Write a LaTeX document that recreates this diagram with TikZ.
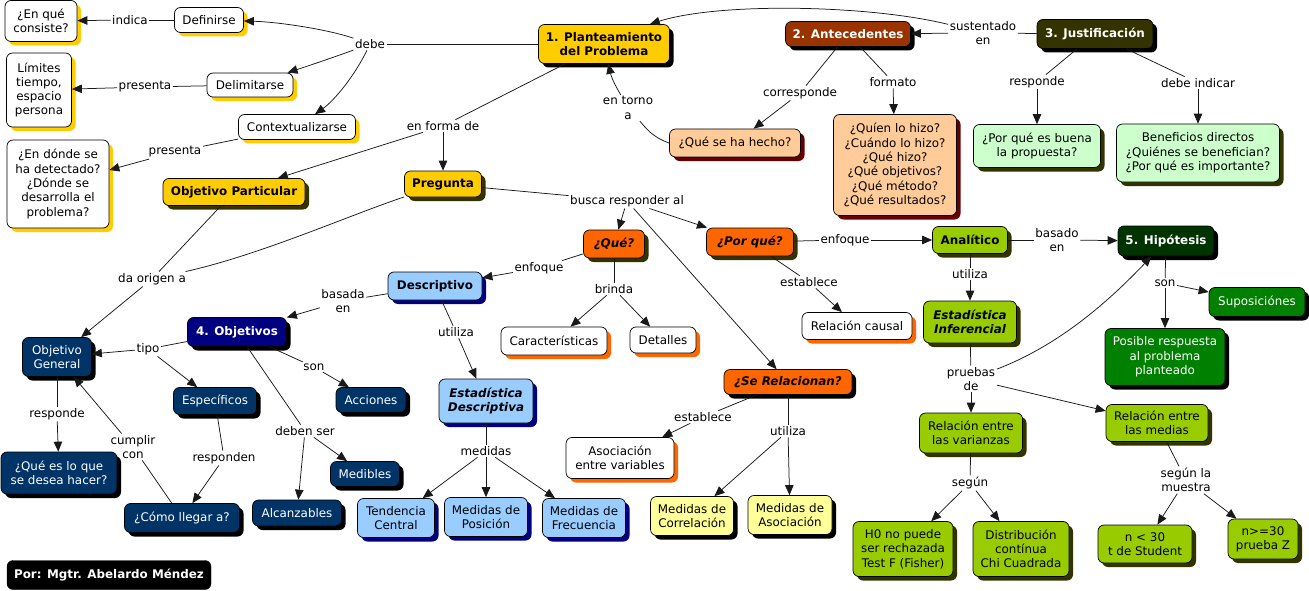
\documentclass[tikz,border=0pt]{standalone}
\usepackage{fontspec}
\setmainfont{DejaVu Sans}
\usetikzlibrary{arrows.meta,shadows}
\newcommand\mapfont{\fontsize{11.9}{14.3}\selectfont}
\newcommand\mapbold{\fontsize{11.9}{14.3}\selectfont\bfseries}
\newcommand\mapbi{\fontsize{11.9}{14.3}\selectfont\bfseries\itshape}
\definecolor{cGold}{HTML}{FFCC00}
\definecolor{cOlive}{HTML}{333300}
\definecolor{cBrown}{HTML}{993300}
\definecolor{cPeach}{HTML}{FFCC99}
\definecolor{cDRed}{HTML}{660000}
\definecolor{cMint}{HTML}{CCFFCC}
\definecolor{cOrange}{HTML}{FF6600}
\definecolor{cSky}{HTML}{99CCFF}
\definecolor{cNavy}{HTML}{000080}
\definecolor{cDBlue}{HTML}{003366}
\definecolor{cLYellow}{HTML}{FFFF99}
\definecolor{cLime}{HTML}{99CC00}
\definecolor{cDGreen}{HTML}{003300}
\definecolor{cGreen}{HTML}{008000}
\tikzset{
  sz/.style 2 args={minimum width=#1pt, minimum height=#2pt},
  cbox/.style 2 args={draw=black, line width=0.7pt, rounded corners=6pt, align=center,
    inner sep=2pt, font=\mapfont, fill=#1,
    drop shadow={shadow xshift=4pt, shadow yshift=-4pt, opacity=1, fill=#2}},
  bf/.style={font=\mapbold},
  bi/.style={font=\mapbi},
  wt/.style={text=white},
  lbl/.style={font=\mapfont, align=center, inner sep=1.5pt},
  arr/.style={-{Triangle[length=10pt,width=8.5pt]}},
  link/.style={line width=0.75pt, draw=black!90},
}
\begin{document}
\begin{tikzpicture}[x=1pt,y=-1pt]
\useasboundingbox (0,0) rectangle (1309,591);
\fill[white] (0,0) rectangle (1309,591);

% ---------- boxes ----------
\node[cbox={white}{cGold}, sz={72}{41}] (enque) at (41,21) {¿En qué\\consiste?};
\node[cbox={white}{cGold}, sz={69}{25}] (def) at (209,20) {Definirse};
\node[cbox={white}{cGold}, sz={65}{74}] (lim) at (39,90) {Límites\\tiempo,\\espacio\\persona};
\node[cbox={white}{cGold}, sz={86}{24}] (delim) at (250,85) {Delimitarse};
\node[cbox={white}{cGold}, sz={117}{25}] (ctx) at (297,127) {Contextualizarse};
\node[cbox={white}{cGold}, sz={102}{88}] (donde) at (58,184) {¿En dónde se\\ha detectado?\\¿Dónde se\\desarrolla el\\problema?};
\node[cbox={cGold}{cOlive}, bf, sz={142}{27}] (objp) at (234,192) {Objetivo Particular};
\node[cbox={cGold}{black}, bf, sz={131}{39}] (plan) at (604,44) {1. Planteamiento\\del Problema};
\node[cbox={cGold}{cOlive}, bf, sz={77}{26}] (preg) at (443,184) {Pregunta};
\node[cbox={cPeach}{cDRed}, sz={131}{28}] (hecho) at (735,143) {¿Qué se ha hecho?};
\node[cbox={cBrown}{black}, bf, wt, sz={125}{25}] (ant) at (848,34) {2. Antecedentes};
\node[cbox={cOlive}{black}, bf, wt, sz={116}{29}] (just) at (1095,34) {3. Justificación};
\node[cbox={cPeach}{cDRed}, sz={123}{101}] (quien) at (895,165) {¿Quíen lo hizo?\\¿Cuándo lo hizo?\\¿Qué hizo?\\¿Qué objetivos?\\¿Qué método?\\¿Qué resultados?};
\node[cbox={cMint}{cOlive}, sz={127}{43}] (buena) at (1037,146) {¿Por qué es buena\\la propuesta?};
\node[cbox={cMint}{cOlive}, sz={163}{58}] (benef) at (1198,153) {Beneficios directos\\¿Quiénes se benefician?\\¿Por qué es importante?};
\node[cbox={cOrange}{cOlive}, bi, sz={61}{28}] (que) at (614,244) {¿Qué?};
\node[cbox={cOrange}{cOlive}, bi, sz={87}{28}] (porq) at (750,242) {¿Por qué?};
\node[cbox={cSky}{cNavy}, bf, sz={94}{28}] (desc) at (435,286) {Descriptivo};
\node[cbox={white}{cOrange}, sz={106}{28}] (carac) at (554,341) {Características};
\node[cbox={white}{cOrange}, sz={66}{26}] (detal) at (663,340) {Detalles};
\node[cbox={cSky}{cNavy}, bi, sz={94}{44}] (estd) at (486,401) {Estadística\\Descriptiva};
\node[cbox={white}{cOrange}, sz={110}{27}] (causal) at (857,326) {Relación causal};
\node[cbox={cOrange}{black}, bi, sz={128}{25}] (serel) at (788,382) {¿Se Relacionan?};
\node[cbox={cSky}{cNavy}, sz={77}{39}] (tend) at (396,518) {Tendencia\\Central};
\node[cbox={cSky}{cNavy}, sz={83}{39}] (posic) at (486,517) {Medidas de\\Posición};
\node[cbox={cSky}{cNavy}, sz={83}{39}] (frec) at (584,518) {Medidas de\\Frecuencia};
\node[cbox={white}{cOrange}, sz={108}{41}] (asoc) at (620,458) {Asociación\\entre variables};
\node[cbox={cLYellow}{black}, sz={83}{39}] (corr) at (692,516) {Medidas de\\Correlación};
\node[cbox={cLYellow}{black}, sz={84}{39}] (masoc) at (790,515) {Medidas de\\Asociación};
\node[cbox={cLime}{cOlive}, bf, sz={75}{27}] (anal) at (970,240) {Analítico};
\node[cbox={cDGreen}{black}, bf, wt, sz={96}{30}] (hip) at (1166,241) {5. Hipótesis};
\node[cbox={cLime}{cOlive}, bi, sz={93}{42}] (inf) at (970,322) {Estadística\\Inferencial};
\node[cbox={cGreen}{black}, wt, sz={96}{29}] (supo) at (1257,302) {Suposiciónes};
\node[cbox={cGreen}{black}, wt, sz={120}{57}] (posib) at (1165,357) {Posible respuesta\\al problema\\planteado};
\node[cbox={cLime}{cOlive}, sz={103}{40}] (varz) at (971,433) {Relación entre\\las varianzas};
\node[cbox={cLime}{cOlive}, sz={102}{37}] (medias) at (1157,423) {Relación entre\\las medias};
\node[cbox={cLime}{cOlive}, sz={100}{55}] (h0) at (903,549) {H0 no puede\\ser rechazada\\Test F (Fisher)};
\node[cbox={cLime}{cOlive}, sz={96}{55}] (dist) at (1021,549) {Distribución\\contínua\\Chi Cuadrada};
\node[cbox={cLime}{cOlive}, sz={94}{38}] (n30) at (1145,544) {n < 30\\t de Student};
\node[cbox={cLime}{cOlive}, sz={70}{40}] (n30b) at (1263,539) {n>=30\\prueba Z};
\node[cbox={cNavy}{black}, bf, wt, sz={99}{29}] (objs) at (237,332) {4. Objetivos};
\node[cbox={cDBlue}{black}, wt, sz={69}{39}] (og) at (57,357) {Objetivo\\General};
\node[cbox={cDBlue}{black}, wt, sz={83}{27}] (espec) at (215,401) {Específicos};
\node[cbox={cDBlue}{black}, wt, sz={70}{25}] (acc) at (371,400) {Acciones};
\node[cbox={cDBlue}{black}, wt, sz={116}{42}] (queslo) at (59,473) {¿Qué es lo que\\se desea hacer?};
\node[cbox={cDBlue}{black}, wt, sz={115}{29}] (como) at (182,518) {¿Cómo llegar a?};
\node[cbox={cDBlue}{black}, wt, sz={69}{25}] (medib) at (365,474) {Medibles};
\node[cbox={cDBlue}{black}, wt, sz={89}{26}] (alcan) at (297,513) {Alcanzables};
\node[draw=black, fill=black, rounded corners=6pt, text=white, font=\mapbold, sz={204}{29}] (por) at (109,575) {Por: Mgtr. Abelardo Méndez};

% ---------- labels ----------
\node[lbl] (lindica) at (130,20) {indica};
\node[lbl] (ldebe) at (370,44) {debe};
\node[lbl] (lpres1) at (145,87) {presenta};
\node[lbl] (lpres2) at (175,152) {presenta};
\node[lbl] (lforma) at (443,126) {en forma de};
\node[lbl] (ltorno) at (628,108) {en torno\\a};
\node[lbl] (lcorr) at (800,93) {corresponde};
\node[lbl] (lformato) at (893,82) {formato};
\node[lbl] (lsust) at (983,33) {sustentado\\en};
\node[lbl] (lresp) at (1037,82) {responde};
\node[lbl] (ldebind) at (1198,83) {debe indicar};
\node[lbl] (lorigen) at (152,279) {da origen a};
\node[lbl] (lbusca) at (627,201) {busca responder al};
\node[lbl] (lenf1) at (539,268) {enfoque};
\node[lbl] (lbrinda) at (614,289) {brinda};
\node[lbl] (lbasada) at (343,301) {basada\\en};
\node[lbl] (lutil1) at (456,332) {utiliza};
\node[lbl] (ltipo) at (148,349) {tipo};
\node[lbl] (lson1) at (314,367) {son};
\node[lbl] (ldeben) at (305,431) {deben ser};
\node[lbl] (lresp2) at (57,414) {responde};
\node[lbl] (lcumplir) at (133,447) {cumplir\\con};
\node[lbl] (lrespden) at (224,458) {responden};
\node[lbl] (lmedidas) at (486,451) {medidas};
\node[lbl] (lenf2) at (845,240) {enfoque};
\node[lbl] (lestab1) at (809,282) {establece};
\node[lbl] (lestab2) at (703,417) {establece};
\node[lbl] (lutil2) at (788,431) {utiliza};
\node[lbl] (lbasado) at (1057,240) {basado\\en};
\node[lbl] (lutil3) at (970,274) {utiliza};
\node[lbl] (lpruebas) at (971,379) {pruebas\\de};
\node[lbl] (lson2) at (1165,283) {son};
\node[lbl] (lsegun) at (970,483) {según};
\node[lbl] (lsegunm) at (1186,480) {según la\\muestra};

% ---------- connectors ----------
\begin{scope}[link]
\draw (plan) -- (ldebe);
\draw[arr] (ldebe) .. controls (330,30) and (280,22) .. (def);
\draw[arr] (ldebe) .. controls (340,55) and (320,62) .. (delim);
\draw[arr] (ldebe) .. controls (355,75) and (335,100) .. (ctx);
\draw (def) -- (lindica); \draw[arr] (lindica) -- (enque);
\draw (delim) -- (lpres1); \draw[arr] (lpres1) -- (lim);
\draw (ctx) -- (lpres2); \draw[arr] (lpres2) -- (donde);
\draw (plan) -- (lforma); \draw[arr] (lforma) -- (objp); \draw[arr] (lforma) -- (preg);
\draw (hecho.west) .. controls (652,137) and (646,128) .. (ltorno);
\draw[arr] (ltorno) .. controls (618,90) and (612,80) .. (plan);
\draw (ant) -- (lcorr); \draw[arr] (lcorr) -- (hecho);
\draw (ant) -- (lformato); \draw[arr] (lformato) -- (quien);
\draw (just) -- (lsust); \draw[arr] (lsust) -- (ant);
\draw[arr] (lsust) .. controls (870,5) and (720,2) .. ([xshift=-20pt]plan.north east);
\draw (just) -- (lresp); \draw[arr] (lresp) -- (buena);
\draw (just) -- (ldebind); \draw[arr] (ldebind) -- (benef);
\draw (objp) -- (lorigen);
\draw (preg) .. controls (350,215) and (260,255) .. (lorigen);
\draw[arr] (lorigen) -- (og);
\draw (preg) -- (lbusca);
\draw[arr] (lbusca) -- (que); \draw[arr] (lbusca) -- (porq); \draw[arr] (lbusca) -- (serel);
\draw (que) -- (lenf1); \draw[arr] (lenf1) -- (desc);
\draw (que) -- (lbrinda); \draw[arr] (lbrinda) -- (carac); \draw[arr] (lbrinda) -- (detal);
\draw (desc) -- (lbasada); \draw[arr] (lbasada) -- (objs);
\draw (desc) -- (lutil1); \draw[arr] (lutil1) -- (estd);
\draw (objs) -- (ltipo); \draw[arr] (ltipo) -- (og); \draw[arr] (ltipo) -- (espec);
\draw (objs) -- (lson1); \draw[arr] (lson1) -- (acc);
\draw (objs) -- (ldeben); \draw[arr] (ldeben) -- (alcan); \draw[arr] (ldeben) -- (medib);
\draw (og) -- (lresp2); \draw[arr] (lresp2) -- (queslo);
\draw (como) -- (lcumplir); \draw[arr] (lcumplir) -- (og);
\draw (espec) -- (lrespden); \draw[arr] (lrespden) -- (como);
\draw (estd) -- (lmedidas); \draw[arr] (lmedidas) -- (tend); \draw[arr] (lmedidas) -- (posic); \draw[arr] (lmedidas) -- (frec);
\draw (porq) -- (lenf2); \draw[arr] (lenf2) -- (anal);
\draw (porq) -- (lestab1); \draw[arr] (lestab1) -- (causal);
\draw (serel) -- (lestab2); \draw[arr] (lestab2) -- (asoc);
\draw (serel) -- (lutil2); \draw[arr] (lutil2) -- (corr); \draw[arr] (lutil2) -- (masoc);
\draw (anal) -- (lbasado); \draw[arr] (lbasado) -- (hip);
\draw (anal) -- (lutil3); \draw[arr] (lutil3) -- (inf);
\draw (inf) -- (lpruebas); \draw[arr] (lpruebas) -- (varz); \draw[arr] (lpruebas) -- (medias);
\draw[arr] (lpruebas) .. controls (1060,345) and (1110,300) .. (hip);
\draw (hip) -- (lson2); \draw[arr] (lson2) -- (supo); \draw[arr] (lson2) -- (posib);
\draw (varz) -- (lsegun); \draw[arr] (lsegun) -- (h0); \draw[arr] (lsegun) -- (dist);
\draw (medias) -- (lsegunm); \draw[arr] (lsegunm) -- (n30); \draw[arr] (lsegunm) -- (n30b);
\end{scope}
\end{tikzpicture}
\end{document}
